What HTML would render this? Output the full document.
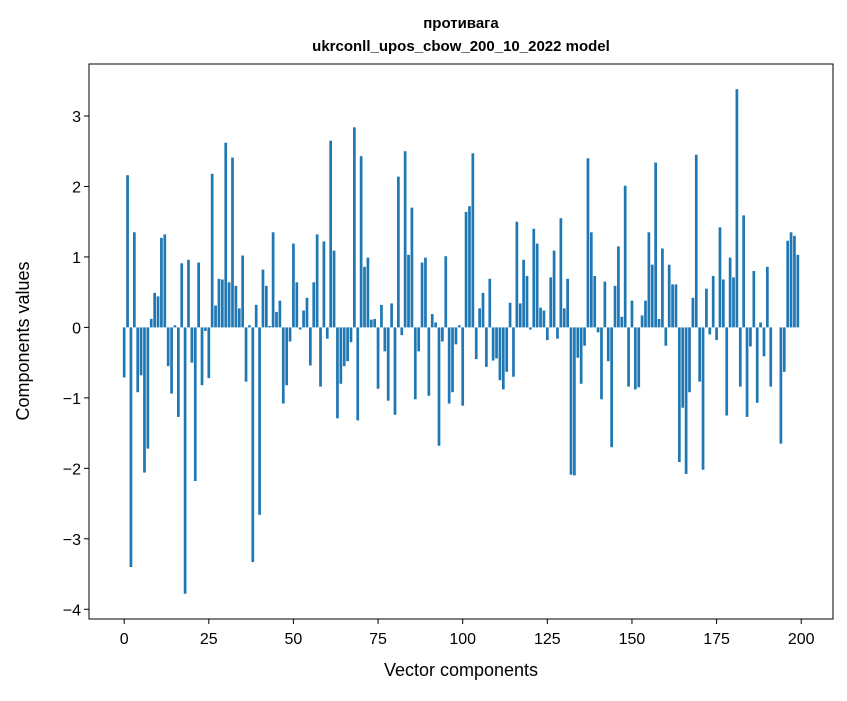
<!DOCTYPE html>
<html><head><meta charset="utf-8"><style>
body{margin:0;background:#fff;}
svg text{font-family:"Liberation Sans","DejaVu Sans",sans-serif;fill:#000;}
</style></head><body>
<svg id="chart" width="847" height="696" xmlns="http://www.w3.org/2000/svg">
<rect width="847" height="696" fill="#fff"/>
<text x="461" y="28" text-anchor="middle" font-size="15" font-weight="bold">противага</text>
<text x="461" y="51" text-anchor="middle" font-size="15" font-weight="bold">ukrconll_upos_cbow_200_10_2022 model</text>
<g id="bars"></g>
<g id="xticks"></g>
<g id="yticks"></g>
<rect x="89" y="64" width="744" height="555" fill="none" stroke="#000" stroke-width="1"/>
<text x="461" y="676" text-anchor="middle" font-size="18">Vector components</text>
<text transform="translate(29,341) rotate(-90)" text-anchor="middle" font-size="18">Components values</text>
</svg>
<script>
const values = [
-0.71,2.16,-3.40,1.35,-0.92,-0.68,-2.06,-1.72,0.12,0.49,
0.44,1.27,1.32,-0.55,-0.94,0.03,-1.27,0.91,-3.78,0.96,
-0.50,-2.18,0.92,-0.82,-0.05,-0.72,2.18,0.31,0.69,0.68,
2.62,0.64,2.41,0.59,0.27,1.02,-0.77,0.03,-3.33,0.32,
-2.66,0.82,0.59,0.02,1.35,0.22,0.38,-1.08,-0.82,-0.20,
1.19,0.64,-0.03,0.24,0.42,-0.54,0.64,1.32,-0.84,1.22,
-0.16,2.65,1.09,-1.29,-0.80,-0.55,-0.48,-0.21,2.84,-1.32,
2.43,0.86,0.99,0.11,0.12,-0.87,0.32,-0.34,-1.04,0.34,
-1.24,2.14,-0.11,2.50,1.03,1.70,-1.02,-0.34,0.92,0.99,
-0.97,0.19,0.07,-1.68,-0.20,1.01,-1.08,-0.92,-0.24,0.03,
-1.11,1.64,1.72,2.47,-0.45,0.27,0.49,-0.56,0.69,-0.47,
-0.44,-0.75,-0.88,-0.63,0.35,-0.70,1.50,0.34,0.96,0.73,
-0.03,1.40,1.19,0.28,0.24,-0.18,0.71,1.09,-0.16,1.55,
0.27,0.69,-2.09,-2.10,-0.43,-0.80,-0.26,2.40,1.35,0.73,
-0.07,-1.02,0.65,-0.48,-1.70,0.59,1.15,0.15,2.01,-0.84,
0.38,-0.88,-0.85,0.17,0.38,1.35,0.89,2.34,0.12,1.12,
-0.26,0.89,0.61,0.61,-1.91,-1.14,-2.08,-0.92,0.42,2.45,
-0.77,-2.02,0.55,-0.10,0.73,-0.18,1.42,0.68,-1.25,0.99,
0.71,3.38,-0.84,1.59,-1.27,-0.27,0.80,-1.07,0.07,-0.41,
0.86,-0.84,0.00,0.00,-1.65,-0.63,1.23,1.35,1.30,1.03
];
const xTickValues = [0,25,50,75,100,125,150,175,200];
const yTickValues = [-4,-3,-2,-1,0,1,2,3];
const yTickLabels = ["−4","−3","−2","−1","0","1","2","3"];

const NS="http://www.w3.org/2000/svg";
const L=89,R=833,T=64,B=619;
const n=values.length;
const xmin=-0.4-(n-1+0.8)*0.05, xmax=n-1+0.4+(n-1+0.8)*0.05;
const vmin=Math.min(...values), vmax=Math.max(...values);
const ymin=vmin-(vmax-vmin)*0.05, ymax=vmax+(vmax-vmin)*0.05;
function xs(v){return L+(v-xmin)/(xmax-xmin)*(R-L);}
function ys(v){return B-(v-ymin)/(ymax-ymin)*(B-T);}
const bars=document.getElementById('bars');
values.forEach((v,i)=>{
  const r=document.createElementNS(NS,'rect');
  const x0=xs(i-0.4), x1=xs(i+0.4);
  const y0=ys(Math.max(v,0)), y1=ys(Math.min(v,0));
  r.setAttribute('x',x0);r.setAttribute('width',x1-x0);
  r.setAttribute('y',y0);r.setAttribute('height',Math.max(y1-y0,0));
  r.setAttribute('fill','#1f77b4');
  
  
  bars.appendChild(r);
});
const xg=document.getElementById('xticks');
xTickValues.forEach(t=>{
  const x=xs(t);
  const l=document.createElementNS(NS,'line');
  l.setAttribute('x1',x);l.setAttribute('x2',x);l.setAttribute('y1',B);l.setAttribute('y2',B+5);
  l.setAttribute('stroke','#000');
  
  
  xg.appendChild(l);
  const tx=document.createElementNS(NS,'text');
  tx.setAttribute('x',x);tx.setAttribute('y',B+25);tx.setAttribute('text-anchor','middle');tx.setAttribute('font-size','16');
  tx.textContent=t;
  
  
  xg.appendChild(tx);
});
const yg=document.getElementById('yticks');
yTickValues.forEach((t,k)=>{
  const y=ys(t);
  const l=document.createElementNS(NS,'line');
  l.setAttribute('x1',L-5);l.setAttribute('x2',L);l.setAttribute('y1',y);l.setAttribute('y2',y);
  l.setAttribute('stroke','#000');
  
  
  yg.appendChild(l);
  const tx=document.createElementNS(NS,'text');
  tx.setAttribute('x',L-8);tx.setAttribute('y',y+6);tx.setAttribute('text-anchor','end');tx.setAttribute('font-size','16');
  tx.textContent=yTickLabels[k];
  
  
  yg.appendChild(tx);
});
</script>
</body></html>
